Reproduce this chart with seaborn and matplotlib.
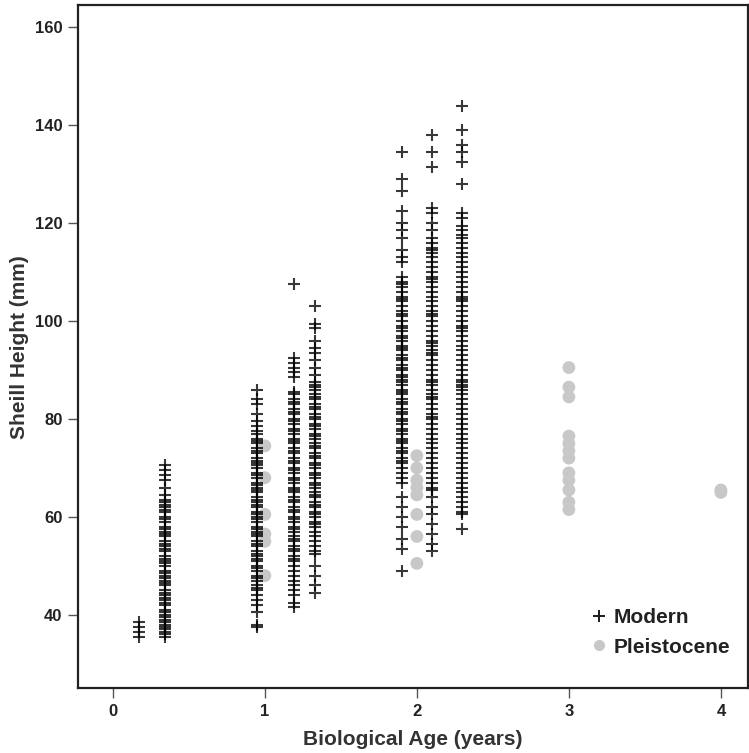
import pandas as pd
import numpy as np

import matplotlib
matplotlib.use("Agg")
import matplotlib.pyplot as plt
import seaborn as sns
from matplotlib.lines import Line2D

# Modern shells: one list of heights per age column
age_modern = [0.17, 0.34, 0.945, 1.19, 1.33, 1.90, 2.10, 2.30]
mod_a = [38.5, 37.5, 36.5, 35.5]
mod_b = [70.5, 69.5, 68.5, 67.5, 66, 64.5, 63.5, 63, 62.5, 62, 61.5, 61, 60, 59.5, 59,
         58, 57.5, 57, 56.5, 56, 55, 54.5, 54, 53.5, 53, 52, 51.5, 51, 50.5, 50, 49,
         48.5, 48, 47.5, 47, 46.5, 46, 45, 44.5, 44, 43.5, 43, 42.5, 42, 41, 40.5, 40,
         39.5, 39, 38.5, 38, 37.5, 37, 36.5, 36, 35.5]
mod_c = [86, 84, 83, 81, 79.5, 78.5, 77.5, 77, 76, 75.5, 75, 74, 73.5, 73, 72, 71.5,
         71, 70.5, 70, 69, 68.5, 68, 67, 66.5, 66, 65.5, 65, 64, 63.5, 63, 62.5, 62,
         61, 60.5, 60, 59.5, 59, 58, 57.5, 57, 56.5, 56, 55, 54.5, 54, 53, 52.5, 52,
         51.5, 51, 50, 49.5, 49, 48, 47.5, 47, 46, 45.5, 45, 44, 43, 42, 40.5, 38, 37.5]
mod_d = [107.5, 92.5, 91.5, 90.5, 89.5, 88.5, 85.5, 85, 84, 83.5, 83, 82, 81.5, 81,
         80, 79.5, 79, 78, 77.5, 77, 76, 75.5, 75, 74, 73.5, 73, 72, 71.5, 71, 70,
         69.5, 69, 68, 67.5, 67, 66, 65.5, 65, 64, 63.5, 63, 62, 61.5, 61, 60, 59.5,
         59, 58, 57.5, 57, 56, 55.5, 55, 54, 53.5, 53, 52, 51.5, 51, 50, 49, 48, 47,
         46, 45, 44, 42.5, 41.5]
mod_e = [103, 99.5, 98.5, 96, 94.5, 93.5, 92, 90.5, 89, 87.5, 87, 86.5, 86, 85, 84.5,
         84, 83, 82.5, 82, 81, 80.5, 80, 79, 78.5, 78, 77, 76.5, 76, 75, 74.5, 74, 73,
         72.5, 72, 71, 70.5, 70, 69, 68.5, 68, 67, 66.5, 66, 65, 64.5, 64, 63, 62.5,
         62, 61, 60.5, 60, 59, 58.5, 58, 57, 56, 55, 54, 53, 52.5, 50, 48, 46, 44.5]
mod_f = [134.5, 129, 126.5, 122.5, 120, 118.5, 117, 114.5, 113, 112, 109, 108, 107.5,
         107, 106, 105, 104.5, 104, 103, 102, 101.5, 101, 100, 99, 98.5, 98, 97, 96.5,
         96, 95, 94.5, 94, 93, 92.5, 92, 91, 90.5, 90, 89, 88.5, 88, 87.5, 87, 86,
         85.5, 85, 84, 83.5, 83, 82, 81.5, 81, 80, 79.5, 79, 78, 77.5, 77, 76, 75.5,
         75, 74, 73.5, 73, 72, 71.5, 71, 70, 69, 68, 67, 64, 62, 60, 58, 55.5, 53.5, 49]
mod_g = [138, 134.5, 131.5, 123, 122, 120, 118.5, 117, 116, 115, 114.5, 114, 113, 112,
         111, 110, 109, 108.5, 108, 107, 106, 105, 104, 103, 102, 101.5, 101, 100, 99,
         98, 97, 96, 95.5, 95, 94, 93.5, 93, 92, 91, 90, 89, 88, 87.5, 87, 86, 85,
         84.5, 84, 83, 82, 81, 80.5, 80, 79, 78, 77, 76, 75, 74, 73, 72, 71, 70, 69,
         68, 67, 66, 65.5, 64, 62, 60.5, 58.5, 56.5, 54.5, 53]
mod_h = [144, 139, 136, 134.5, 132.5, 128, 122, 121, 119.5, 118.5, 117.5, 117, 116, 115,
         114, 113, 112, 111, 110, 109, 108, 107, 106, 105, 104.5, 104, 103, 102, 101,
         100, 99, 98.5, 98, 97, 96, 95, 94, 93, 92, 91, 90, 89, 88, 87.5, 87, 86.5, 86,
         85, 84, 83, 82, 81, 80, 79, 78, 77, 76, 75, 74, 73, 72, 71, 70, 69, 68, 67,
         66, 65, 64, 63, 62, 61, 60.5, 57.5]
modern_cols = [mod_a, mod_b, mod_c, mod_d, mod_e, mod_f, mod_g, mod_h]

# Pleistocene shells
age_pleist = [1.0, 2.0, 3.0, 4.0]
ple_1 = [74.5, 68, 60.5, 56.5, 55, 48]
ple_2 = [72.5, 70, 67.5, 66, 64.5, 60.5, 56, 50.5]
ple_3 = [90.5, 86.5, 84.5, 76.5, 75, 73.5, 72, 69, 67.5, 65.5, 63, 61.5]
ple_4 = [65.5, 65]
pleist_cols = [ple_1, ple_2, ple_3, ple_4]

rows = []
for age, vals in zip(age_modern, modern_cols):
    for v in vals:
        rows.append((age, v, "Modern"))
for age, vals in zip(age_pleist, pleist_cols):
    for v in vals:
        rows.append((age, v, "Pleistocene"))
df = pd.DataFrame(rows, columns=["age", "height", "group"])

sns.set_style("white")
plt.rcParams["font.family"] = ["Liberation Sans", "DejaVu Sans"]
plt.rcParams["font.weight"] = "bold"

fig = plt.figure(figsize=(7.49, 7.53), dpi=100)
ax = fig.add_axes([0.104, 0.086, 0.895, 0.907])

sns.scatterplot(data=df[df.group == "Pleistocene"], x="age", y="height",
                color="#c8c8c8", s=85, edgecolor="none", ax=ax, legend=False)
sns.scatterplot(data=df[df.group == "Modern"], x="age", y="height",
                marker="+", color="#000000", s=70, linewidth=1.5, alpha=0.78,
                ax=ax, legend=False)

ax.set_xlim(-0.23, 4.18)
ax.set_ylim(25, 164.5)
ax.set_xticks([0, 1, 2, 3, 4])
ax.set_yticks([40, 60, 80, 100, 120, 140, 160])
ax.tick_params(axis="both", direction="out", length=7, width=1, color="#555555",
               labelsize=12, pad=4, bottom=True, left=True)
for lab in ax.get_xticklabels() + ax.get_yticklabels():
    lab.set_fontweight("bold")
    lab.set_color("#222222")
for sp in ax.spines.values():
    sp.set_color("#222222")
    sp.set_linewidth(1.6)

ax.set_xlabel("Biological Age (years)", fontsize=15, fontweight="bold",
              color="#333333", labelpad=8)
ax.set_ylabel("Sheill Height (mm)", fontsize=15, fontweight="bold",
              color="#333333", labelpad=4)

handles = [
    Line2D([], [], marker="+", linestyle="none", color="#1a1a1a", markersize=9,
           markeredgewidth=1.4, label="Modern"),
    Line2D([], [], marker="o", linestyle="none", color="#c8c8c8", markersize=8,
           markeredgewidth=0, label="Pleistocene"),
]
leg = ax.legend(handles=handles, loc="lower right", bbox_to_anchor=(0.985, 0.034),
                frameon=False, fontsize=15, handlelength=1.0, handletextpad=0.2,
                labelspacing=0.5, borderaxespad=0)
for t in leg.get_texts():
    t.set_fontweight("bold")
    t.set_color("#222222")

fig.savefig("out.png", dpi=100)
